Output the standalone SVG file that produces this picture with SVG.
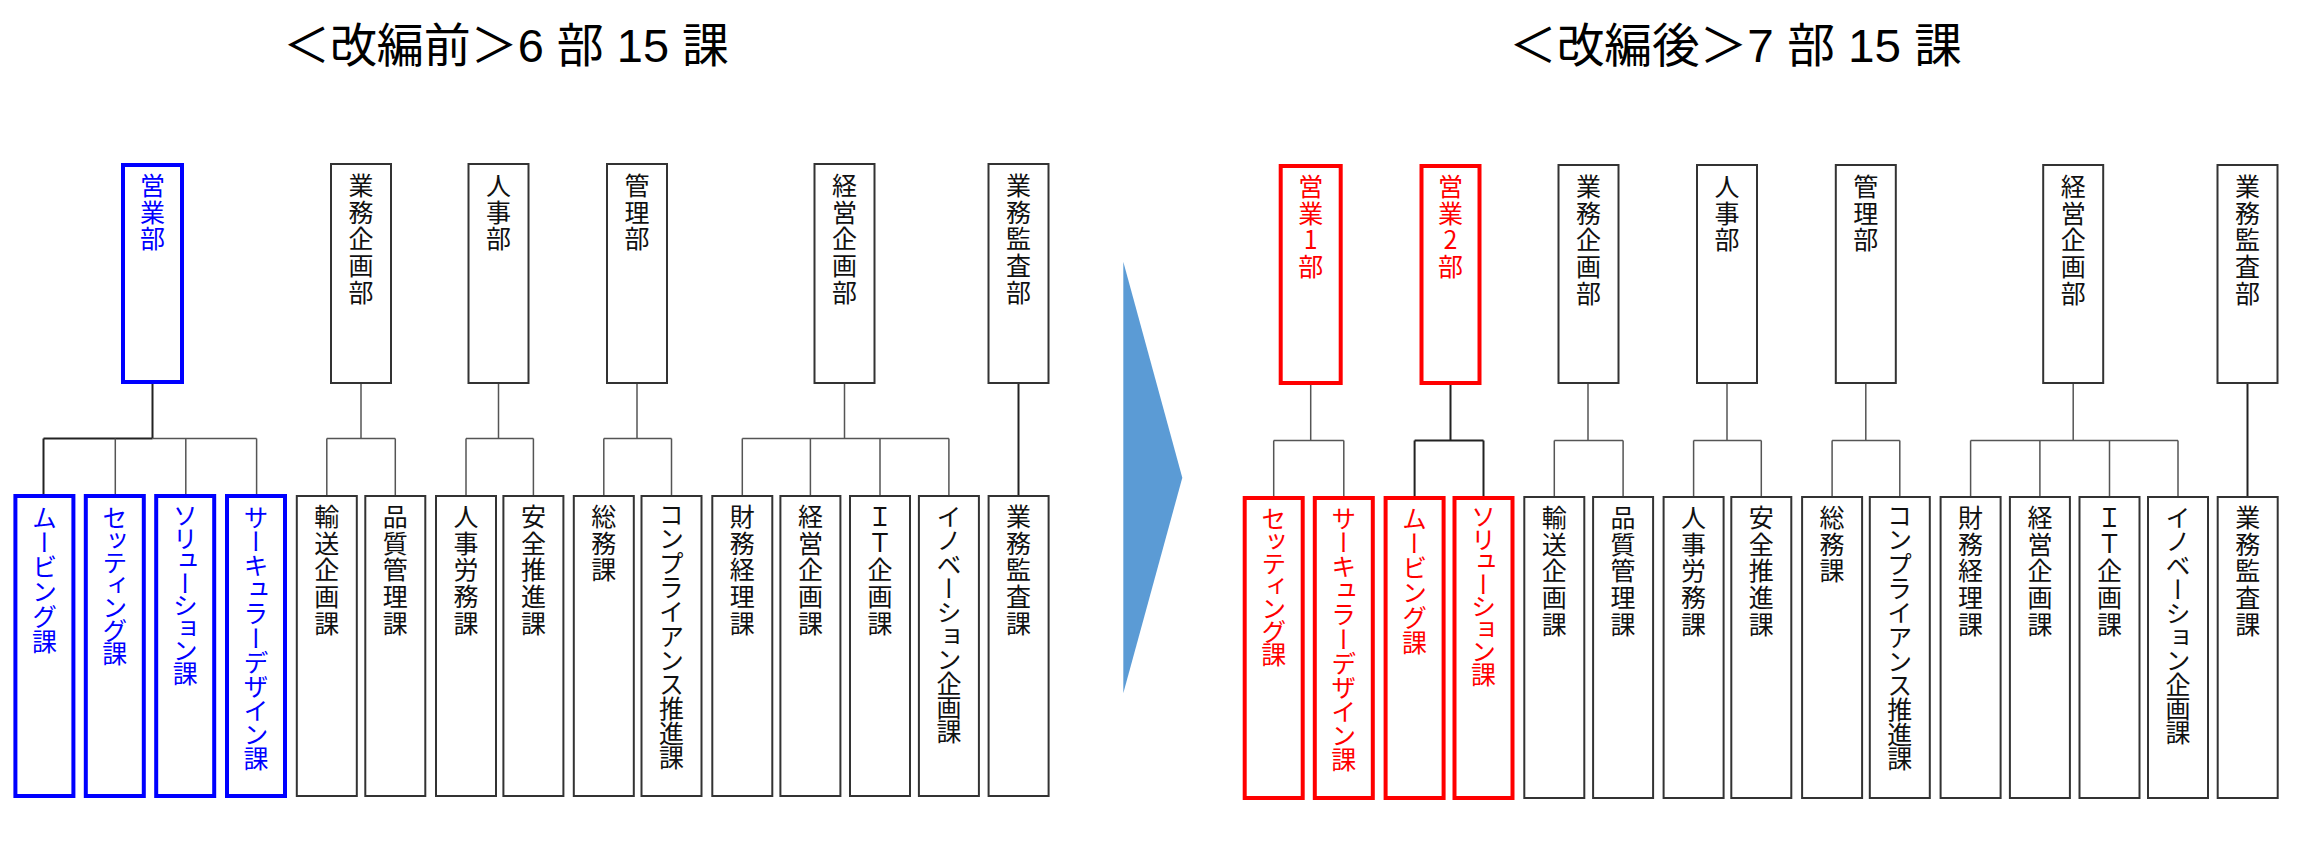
<svg xmlns="http://www.w3.org/2000/svg" width="2297" height="842" viewBox="0 0 2297 842">
<style>
.box{fill:#fff;stroke:#333;stroke-width:2}
.bbox{fill:#fff;stroke:#0000ff;stroke-width:4}
.rbox{fill:#fff;stroke:#ff0000;stroke-width:4}
.t{font-family:"Noto Sans CJK JP",sans-serif;font-size:25px;writing-mode:vertical-rl;text-orientation:upright;fill:#111;letter-spacing:1.7px}
.blue{fill:#0000ff}
.red{fill:#ff0000}
.title{font-family:"Liberation Sans","Noto Sans CJK JP",sans-serif;font-size:47px;fill:#000}
.ln{stroke:#555;stroke-width:1.5;fill:none}
.lnd{stroke:#222;stroke-width:2;fill:none}
</style>
<rect width="2297" height="842" fill="#fff"/>
<text class="title" x="283" y="62" textLength="446" lengthAdjust="spacingAndGlyphs">＜改編前＞6 部 15 課</text>
<text class="title" x="1509" y="62" textLength="453" lengthAdjust="spacingAndGlyphs">＜改編後＞7 部 15 課</text>
<polygon id="arrow" points="1123.3,261.7 1182.3,477.7 1123.3,693.3" fill="#5B9BD5"/>
<g id="connectors">
<path class="lnd" d="M152.5,384V438.5M43.5,438.5H152.5M43.5,438.5V494"/>
<path class="ln" d="M152.5,438.5H256.6M115.3,438.5V494M185.8,438.5V494M256.6,438.5V494"/>
<path class="ln" d="M361,383V438.5M326.8,438.5H395.3M326.8,438.5V495M395.3,438.5V495"/>
<path class="ln" d="M498.5,383V438.5M466,438.5H533.4M466,438.5V495M533.4,438.5V495"/>
<path class="ln" d="M637,383V438.5M603.8,438.5H671.5M603.8,438.5V495M671.5,438.5V495"/>
<path class="ln" d="M844.5,383V438.5M742.3,438.5H948.9M742.3,438.5V495M810.4,438.5V495M880,438.5V495M948.9,438.5V495"/>
<path class="lnd" d="M1018.5,383V495"/>
<path class="ln" d="M1310.7,385V440.5M1273.7,440.5H1343.8M1273.7,440.5V496M1343.8,440.5V496"/>
<path class="lnd" d="M1450.5,385V440.5M1414.6,440.5H1483.5M1414.6,440.5V496M1483.5,440.5V496"/>
<path class="ln" d="M1588,383V440.5M1554.3,440.5H1623.1M1554.3,440.5V496M1623.1,440.5V496"/>
<path class="ln" d="M1727,383V440.5M1693.6,440.5H1761.3M1693.6,440.5V496M1761.3,440.5V496"/>
<path class="ln" d="M1865.8,383V440.5M1832.1,440.5H1899.8M1832.1,440.5V496M1899.8,440.5V496"/>
<path class="ln" d="M2073.2,383V440.5M1970.6,440.5H2178M1970.6,440.5V496M2039.9,440.5V496M2109.5,440.5V496M2178,440.5V496"/>
<path class="lnd" d="M2247.5,383V496"/>
</g>
<!-- before: departments -->
<g id="b-eigyo"><rect class="bbox" x="123" y="165" width="59" height="217"/><text class="t blue" x="152.5" y="173">営業部</text></g>
<g id="b-gyomukikaku"><rect class="box" x="331" y="164" width="60" height="219"/><text class="t" x="361" y="173">業務企画部</text></g>
<g id="b-jinji"><rect class="box" x="468.5" y="164" width="60" height="219"/><text class="t" x="498.5" y="173">人事部</text></g>
<g id="b-kanri"><rect class="box" x="607" y="164" width="60" height="219"/><text class="t" x="637" y="173">管理部</text></g>
<g id="b-keiei"><rect class="box" x="814.5" y="164" width="60" height="219"/><text class="t" x="844.5" y="173">経営企画部</text></g>
<g id="b-kansa"><rect class="box" x="988.5" y="164" width="60" height="219"/><text class="t" x="1018.5" y="173">業務監査部</text></g>
<!-- before: sections -->
<g id="b-moving"><rect class="bbox" x="15.4" y="496" width="58" height="300"/><text class="t blue" x="44.4" y="505" style="letter-spacing:-0.3px">ムービング課</text></g>
<g id="b-setting"><rect class="bbox" x="85.8" y="496" width="58" height="300"/><text class="t blue" x="114.8" y="505" style="letter-spacing:-2.4px">セッティング課</text></g>
<g id="b-solution"><rect class="bbox" x="156.2" y="496" width="58" height="300"/><text class="t blue" x="185.2" y="503" style="letter-spacing:-2.5px">ソリューション課</text></g>
<g id="b-circular"><rect class="bbox" x="227" y="496" width="58" height="300"/><text class="t blue" x="256" y="505" style="letter-spacing:-0.9px">サーキュラーデザイン課</text></g>
<g id="b-yuso"><rect class="box" x="296.8" y="496" width="60" height="300"/><text class="t" x="326.8" y="504">輸送企画課</text></g>
<g id="b-hinshitsu"><rect class="box" x="365.3" y="496" width="60" height="300"/><text class="t" x="395.3" y="504">品質管理課</text></g>
<g id="b-jinjiromu"><rect class="box" x="436" y="496" width="60" height="300"/><text class="t" x="466" y="504">人事労務課</text></g>
<g id="b-anzen"><rect class="box" x="503.4" y="496" width="60" height="300"/><text class="t" x="533.4" y="504">安全推進課</text></g>
<g id="b-somu"><rect class="box" x="573.8" y="496" width="60" height="300"/><text class="t" x="603.8" y="504">総務課</text></g>
<g id="b-compliance"><rect class="box" x="641.5" y="496" width="60" height="300"/><text class="t" x="671.5" y="502" style="letter-spacing:-0.7px">コンプライアンス推進課</text></g>
<g id="b-zaimu"><rect class="box" x="712.3" y="496" width="60" height="300"/><text class="t" x="742.3" y="504">財務経理課</text></g>
<g id="b-keieikikaku"><rect class="box" x="780.4" y="496" width="60" height="300"/><text class="t" x="810.4" y="504">経営企画課</text></g>
<g id="b-it"><rect class="box" x="850" y="496" width="60" height="300"/><text class="t" x="880" y="504">ＩＴ企画課</text></g>
<g id="b-innovation"><rect class="box" x="918.9" y="496" width="60" height="300"/><text class="t" x="948.9" y="504" style="letter-spacing:-1.1px">イノベーション企画課</text></g>
<g id="b-kansaka"><rect class="box" x="988.6" y="496" width="60" height="300"/><text class="t" x="1018.6" y="504">業務監査課</text></g>
<!-- after: departments -->
<g id="a-eigyo1"><rect class="rbox" x="1280.7" y="166" width="60" height="217"/><text class="t red" x="1310.7" y="174">営業1部</text></g>
<g id="a-eigyo2"><rect class="rbox" x="1421.5" y="166" width="58" height="217"/><text class="t red" x="1450.5" y="174">営業2部</text></g>
<g id="a-gyomukikaku"><rect class="box" x="1558.5" y="165" width="60" height="218"/><text class="t" x="1588.5" y="174">業務企画部</text></g>
<g id="a-jinji"><rect class="box" x="1697" y="165" width="60" height="218"/><text class="t" x="1727" y="174">人事部</text></g>
<g id="a-kanri"><rect class="box" x="1835.8" y="165" width="60" height="218"/><text class="t" x="1865.8" y="174">管理部</text></g>
<g id="a-keiei"><rect class="box" x="2043.2" y="165" width="60" height="218"/><text class="t" x="2073.2" y="174">経営企画部</text></g>
<g id="a-kansa"><rect class="box" x="2217.5" y="165" width="60" height="218"/><text class="t" x="2247.5" y="174">業務監査部</text></g>
<!-- after: sections -->
<g id="a-setting"><rect class="rbox" x="1244.7" y="498" width="58" height="300"/><text class="t red" x="1273.7" y="506" style="letter-spacing:-2.4px">セッティング課</text></g>
<g id="a-circular"><rect class="rbox" x="1314.8" y="498" width="58" height="300"/><text class="t red" x="1343.8" y="506" style="letter-spacing:-0.9px">サーキュラーデザイン課</text></g>
<g id="a-moving"><rect class="rbox" x="1385.6" y="498" width="58" height="300"/><text class="t red" x="1414.6" y="506" style="letter-spacing:-0.3px">ムービング課</text></g>
<g id="a-solution"><rect class="rbox" x="1454.5" y="498" width="58" height="300"/><text class="t red" x="1483.5" y="504" style="letter-spacing:-2.5px">ソリューション課</text></g>
<g id="a-yuso"><rect class="box" x="1524.3" y="497" width="60" height="301"/><text class="t" x="1554.3" y="505">輸送企画課</text></g>
<g id="a-hinshitsu"><rect class="box" x="1593.1" y="497" width="60" height="301"/><text class="t" x="1623.1" y="505">品質管理課</text></g>
<g id="a-jinjiromu"><rect class="box" x="1663.6" y="497" width="60" height="301"/><text class="t" x="1693.6" y="505">人事労務課</text></g>
<g id="a-anzen"><rect class="box" x="1731.3" y="497" width="60" height="301"/><text class="t" x="1761.3" y="505">安全推進課</text></g>
<g id="a-somu"><rect class="box" x="1802.1" y="497" width="60" height="301"/><text class="t" x="1832.1" y="505">総務課</text></g>
<g id="a-compliance"><rect class="box" x="1869.8" y="497" width="60" height="301"/><text class="t" x="1899.8" y="503" style="letter-spacing:-0.7px">コンプライアンス推進課</text></g>
<g id="a-zaimu"><rect class="box" x="1940.6" y="497" width="60" height="301"/><text class="t" x="1970.6" y="505">財務経理課</text></g>
<g id="a-keieikikaku"><rect class="box" x="2009.9" y="497" width="60" height="301"/><text class="t" x="2039.9" y="505">経営企画課</text></g>
<g id="a-it"><rect class="box" x="2079.5" y="497" width="60" height="301"/><text class="t" x="2109.5" y="505">ＩＴ企画課</text></g>
<g id="a-innovation"><rect class="box" x="2148" y="497" width="60" height="301"/><text class="t" x="2178" y="505" style="letter-spacing:-1.1px">イノベーション企画課</text></g>
<g id="a-kansaka"><rect class="box" x="2217.7" y="497" width="60" height="301"/><text class="t" x="2247.7" y="505">業務監査課</text></g>
</svg>
